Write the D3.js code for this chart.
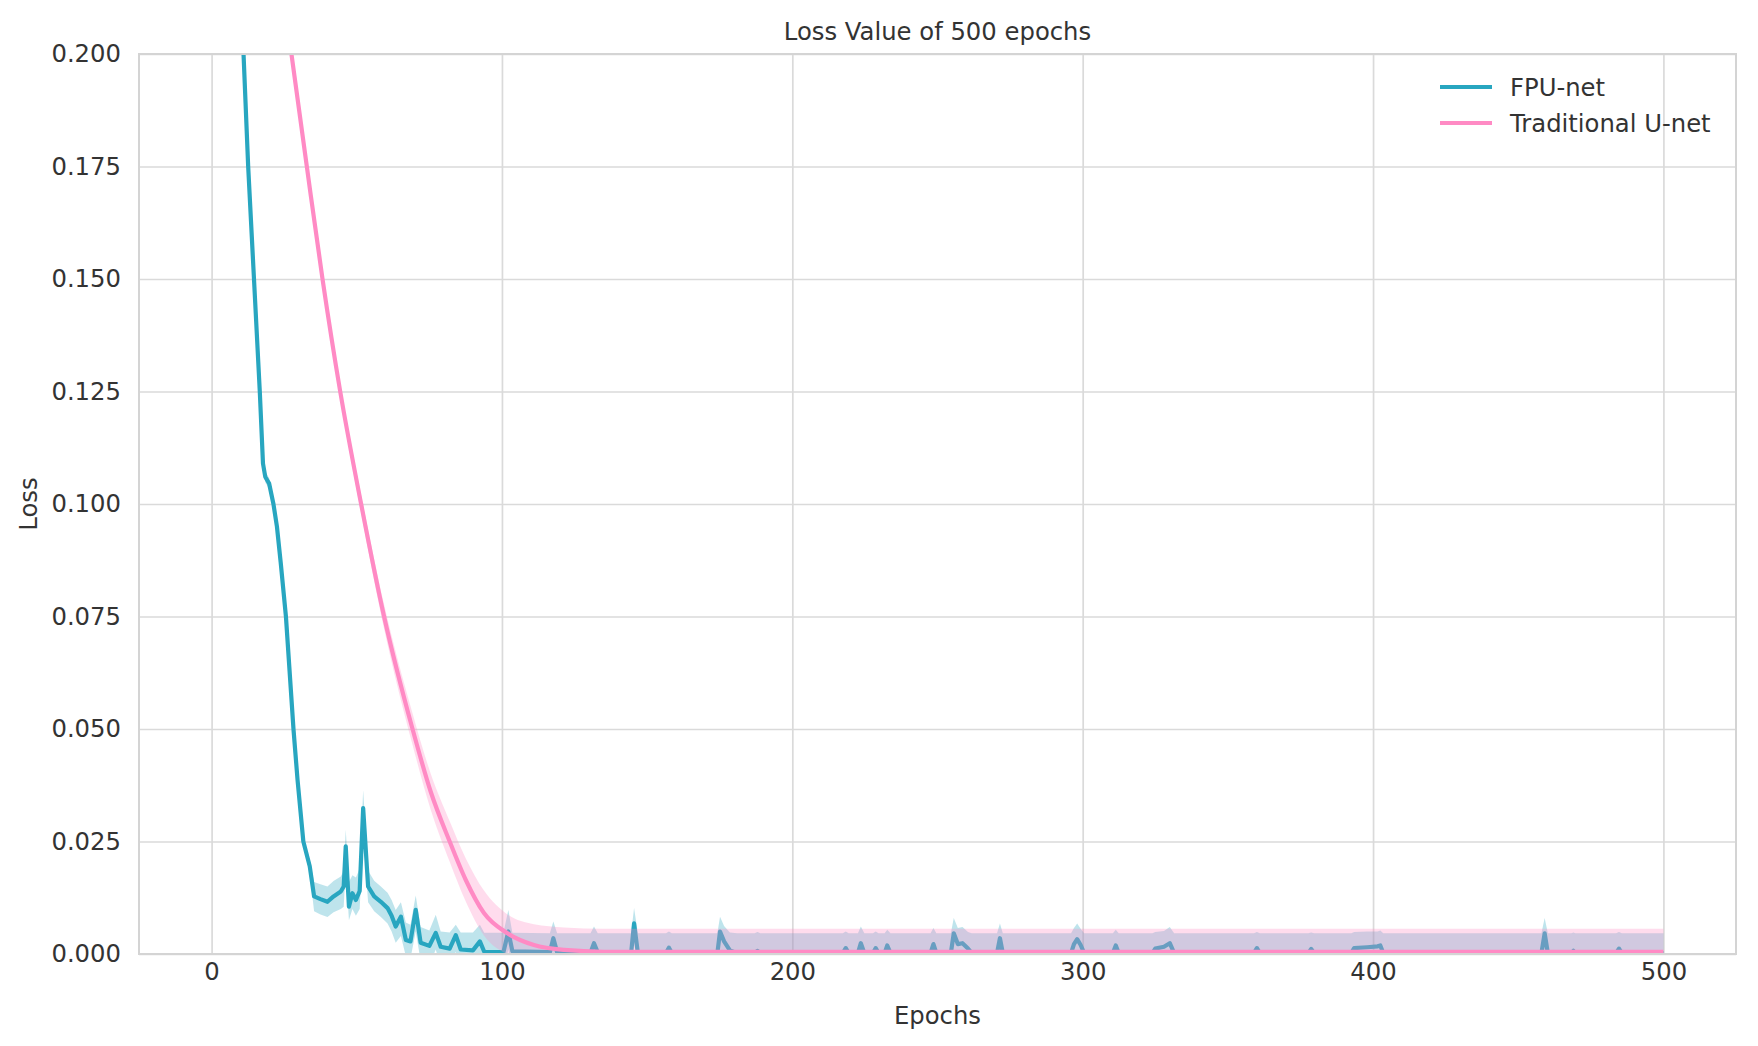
<!DOCTYPE html>
<html>
<head>
<meta charset="utf-8">
<script src="https://cdn.jsdelivr.net/npm/d3@7"></script>
<style>
  html, body { margin: 0; padding: 0; background: #ffffff; }
  svg { display: block; }
  text { font-family: "DejaVu Sans", sans-serif; fill: #333333; }
</style>
</head>
<body>
<svg id="chart" width="1758" height="1046"></svg>
<script>
// ---------------- data ----------------
const chartTitle = "Loss Value of 500 epochs";
const xLabel = "Epochs";
const yLabel = "Loss";
const seriesNames = ["FPU-net", "Traditional U-net"];
const xTicks = [0, 100, 200, 300, 400, 500];
const yTicks = [0, 0.025, 0.05, 0.075, 0.1, 0.125, 0.15, 0.175, 0.2];

// FPU-net: mean curve and its confidence band
const fpuEpoch = [9.5, 11.0, 12.6, 14.6, 16.6, 17.7, 18.5, 19.8, 21.3, 22.5, 23.8, 25.6, 28.2, 29.6, 31.6, 33.8,
  35.3, 37.5, 39.9, 42.0, 44.5, 45.5, 46.2, 47.3, 48.5, 49.7, 51.0, 52.2, 53.9, 56.0, 58.3, 60.6, 62.0, 63.4,
  65.2, 66.9, 68.5, 70.3, 72.0, 75.0, 77.2, 78.9, 82.0, 84.1, 85.8, 90.0, 92.4, 93.9, 100.5, 102.2, 103.6,
  116.5, 117.7, 119.0, 130.5, 131.7, 133.0, 144.5, 145.5, 146.8, 156.5, 157.5, 158.5, 174.2, 175.1, 176.5, 178.5,
  181.0, 187.0, 188.0, 189.0, 217.4, 218.4, 219.4, 222.6, 223.6, 224.8, 227.8, 228.7, 229.7, 231.8, 232.7, 233.8,
  247.6, 248.6, 249.6, 254.6, 255.6, 257.0, 258.6, 260.5, 261.8, 270.5, 271.5, 272.5, 296.0, 297.0, 298.1, 299.3,
  300.5, 310.4, 311.4, 312.4, 324.0, 325.0, 328.0, 330.0, 331.5, 359.0, 360.0, 361.0, 377.7, 378.7, 379.7,
  392.5, 393.5, 398.0, 401.6, 402.5, 403.5, 458.0, 459.1, 460.2, 468.3, 469.0, 469.7, 483.7, 484.7, 485.7, 500.0];
const fpuMean = [0.212, 0.200, 0.175, 0.150, 0.125, 0.109, 0.106, 0.1046, 0.100, 0.095, 0.087, 0.075, 0.050, 0.0387, 0.025, 0.0195,
  0.0128, 0.0122, 0.0116, 0.0128, 0.0139, 0.0150, 0.0239, 0.0105, 0.0135, 0.0120, 0.0140, 0.0324, 0.0150, 0.0128, 0.0116, 0.0102, 0.0085, 0.0061,
  0.0083, 0.0031, 0.0028, 0.0098, 0.0025, 0.0018, 0.0047, 0.0016, 0.0012, 0.0042, 0.0010, 0.0008, 0.0028, 0.0005, 0.0004, 0.0050, 0.0006,
  0.0004, 0.0035, 0.0004, 0.0003, 0.0024, 0.0003, 0.0003, 0.0068, 0.0003, 0.0002, 0.0014, 0.0002, 0.0002, 0.0050, 0.0028, 0.0008,
  0.0002, 0.0002, 0.0007, 0.0002, 0.0002, 0.0013, 0.0002, 0.0002, 0.0024, 0.0002, 0.0002, 0.0013, 0.0002, 0.0002, 0.0019, 0.0002,
  0.0002, 0.0022, 0.0002, 0.0002, 0.0046, 0.0022, 0.0024, 0.0012, 0.0002, 0.0002, 0.0035, 0.0002, 0.0002, 0.0022, 0.0033, 0.0020,
  0.0002, 0.0002, 0.0019, 0.0002, 0.0002, 0.0012, 0.0016, 0.0024, 0.0002, 0.0002, 0.0013, 0.0002, 0.0002, 0.0011, 0.0002,
  0.0002, 0.0013, 0.0015, 0.0017, 0.0019, 0.0002, 0.0002, 0.0046, 0.0002, 0.0002, 0.0007, 0.0002, 0.0002, 0.0012, 0.0002, 0.0002];
const fpuLow = [0.2115, 0.1995, 0.1745, 0.1495, 0.1243, 0.1080, 0.1048, 0.1034, 0.0990, 0.0940, 0.0862, 0.0744, 0.0495, 0.0382, 0.0244, 0.0180,
  0.0095, 0.0088, 0.0082, 0.0093, 0.0100, 0.0105, 0.0190, 0.0075, 0.0100, 0.0085, 0.0100, 0.0270, 0.0115, 0.0095, 0.0082, 0.0068, 0.0050, 0.0025,
  0.0040, -0.0005, -0.0010, 0.0050, -0.0015, -0.0025, 0.0010, -0.0030, -0.0035, 0.0005, -0.0035, -0.0038, -0.0010, -0.0040, -0.0040, 0.0010, -0.0040,
  -0.0040, -0.0005, -0.0040, -0.0042, -0.0020, -0.0042, -0.0042, 0.0025, -0.0042, -0.0042, -0.0030, -0.0042, -0.0042, 0.0010, -0.0015, -0.0035,
  -0.0042, -0.0042, -0.0036, -0.0042, -0.0042, -0.0030, -0.0042, -0.0042, -0.0020, -0.0042, -0.0042, -0.0030, -0.0042, -0.0042, -0.0025, -0.0042,
  -0.0042, -0.0022, -0.0042, -0.0042, 0.0005, -0.0022, -0.0020, -0.0032, -0.0042, -0.0042, -0.0008, -0.0042, -0.0042, -0.0022, -0.0010, -0.0024,
  -0.0042, -0.0042, -0.0025, -0.0042, -0.0042, -0.0032, -0.0028, -0.0020, -0.0042, -0.0042, -0.0031, -0.0042, -0.0042, -0.0033, -0.0042,
  -0.0042, -0.0031, -0.0029, -0.0027, -0.0025, -0.0042, -0.0042, 0.0005, -0.0042, -0.0042, -0.0037, -0.0042, -0.0042, -0.0032, -0.0042, -0.0042];
const fpuHigh = [0.2125, 0.2005, 0.1755, 0.1505, 0.1257, 0.1100, 0.1072, 0.1058, 0.1010, 0.0960, 0.0878, 0.0756, 0.0505, 0.0392, 0.0256, 0.0210,
  0.0160, 0.0155, 0.0150, 0.0162, 0.0172, 0.0185, 0.0276, 0.0160, 0.0175, 0.0170, 0.0190, 0.0364, 0.0185, 0.0163, 0.0150, 0.0136, 0.0120, 0.0098,
  0.0115, 0.0070, 0.0065, 0.0130, 0.0060, 0.0052, 0.0087, 0.0050, 0.0048, 0.0065, 0.0048, 0.0048, 0.0065, 0.0047, 0.0047, 0.0098, 0.0047,
  0.0046, 0.0072, 0.0046, 0.0046, 0.0061, 0.0046, 0.0046, 0.0102, 0.0046, 0.0046, 0.0050, 0.0046, 0.0046, 0.0083, 0.0062, 0.0048,
  0.0046, 0.0046, 0.0049, 0.0046, 0.0046, 0.0050, 0.0046, 0.0046, 0.0061, 0.0046, 0.0046, 0.0050, 0.0046, 0.0046, 0.0054, 0.0046,
  0.0046, 0.0058, 0.0046, 0.0046, 0.0080, 0.0058, 0.0060, 0.0049, 0.0046, 0.0046, 0.0068, 0.0046, 0.0046, 0.0058, 0.0068, 0.0056,
  0.0046, 0.0046, 0.0054, 0.0046, 0.0046, 0.0049, 0.0051, 0.0060, 0.0046, 0.0046, 0.0049, 0.0046, 0.0046, 0.0048, 0.0046,
  0.0046, 0.0049, 0.0050, 0.0050, 0.0052, 0.0046, 0.0046, 0.0080, 0.0046, 0.0046, 0.0048, 0.0046, 0.0046, 0.0049, 0.0046, 0.0046];

// Traditional U-net: smooth mean curve and its confidence band
const unetEpoch = [25.0, 27.5, 32.8, 38.2, 44.3, 51.5, 59.4, 69.2, 75.5, 82.0, 87.5, 93.8, 101.9, 111.0, 121.4, 135.0, 500.0];
const unetMean = [0.212, 0.200, 0.175, 0.150, 0.125, 0.100, 0.075, 0.050, 0.036, 0.025, 0.0165, 0.0091, 0.0046, 0.0020, 0.0009, 0.0005, 0.0005];
const unetLow = [0.2116, 0.1995, 0.1742, 0.1489, 0.1235, 0.0980, 0.0723, 0.0465, 0.0320, 0.0205, 0.0117, 0.0041, -0.0002, -0.0030, -0.0041, -0.0046, -0.0046];
const unetHigh = [0.2124, 0.2005, 0.1758, 0.1511, 0.1265, 0.1020, 0.0777, 0.0535, 0.0400, 0.0295, 0.0213, 0.0141, 0.0088, 0.0066, 0.0059, 0.0056, 0.0056];

const colors = ["#28a6c0", "#ff8ac4"];

// ---------------- layout ----------------
const svg = d3.select("#chart");
const L = 139, R = 1736, T = 54, B = 954;

const x = d3.scaleLinear().domain([-25, 525]).range([L, R]);
const y = d3.scaleLinear().domain([0, 0.2]).range([B, T]);

// grid
const gx = svg.append("g").attr("transform", `translate(0,${B})`)
  .call(d3.axisBottom(x).tickValues(xTicks).tickSize(-(B - T)).tickFormat(d3.format("d")).tickPadding(18));
gx.select(".domain").remove();
gx.selectAll(".tick line").attr("stroke", "#dadada").attr("stroke-width", 1.7);
gx.selectAll(".tick text").attr("font-size", 24.3).attr("fill", "#333").attr("dy", "0.71em")
  .attr("y", 9).attr("transform", null);

const gy = svg.append("g").attr("transform", `translate(${L},0)`)
  .call(d3.axisLeft(y).tickValues(yTicks).tickSize(-(R - L)).tickFormat(d3.format(".3f")).tickPadding(18));
gy.select(".domain").remove();
gy.selectAll(".tick line").attr("stroke", "#dadada").attr("stroke-width", 1.7);
gy.selectAll(".tick text").attr("font-size", 24.3).attr("fill", "#333");

// clip
svg.append("defs").append("clipPath").attr("id", "plotclip")
  .append("rect").attr("x", L).attr("y", T).attr("width", R - L).attr("height", B - T);
const plot = svg.append("g").attr("clip-path", "url(#plotclip)");

function drawSeries(ep, mean, lo, hi, color, curve) {
  const idx = d3.range(ep.length);
  const area = d3.area().x(i => x(ep[i])).y0(i => y(lo[i])).y1(i => y(hi[i])).curve(curve);
  const line = d3.line().x(i => x(ep[i])).y(i => y(mean[i])).curve(curve);
  plot.append("path").datum(idx).attr("d", area).attr("fill", color).attr("fill-opacity", 0.3).attr("stroke", "none");
  plot.append("path").datum(idx).attr("d", line).attr("fill", "none").attr("stroke", color)
    .attr("stroke-width", 4.2).attr("stroke-linejoin", "round");
}
drawSeries(fpuEpoch, fpuMean, fpuLow, fpuHigh, colors[0], d3.curveLinear);
drawSeries(unetEpoch, unetMean, unetLow, unetHigh, colors[1], d3.curveMonotoneX);

// spines
svg.append("rect").attr("x", L).attr("y", T).attr("width", R - L).attr("height", B - T)
  .attr("fill", "none").attr("stroke", "#d4d4d4").attr("stroke-width", 2);

// title and labels
svg.append("text").attr("x", (L + R) / 2).attr("y", 31).attr("text-anchor", "middle")
  .attr("dominant-baseline", "central").attr("font-size", 24.3).text(chartTitle);
svg.append("text").attr("x", (L + R) / 2).attr("y", 1015).attr("text-anchor", "middle")
  .attr("dominant-baseline", "central").attr("font-size", 24.3).text(xLabel);
svg.append("text").attr("transform", `translate(28,${(T + B) / 2}) rotate(-90)`).attr("text-anchor", "middle")
  .attr("dominant-baseline", "central").attr("font-size", 24.3).text(yLabel);

// legend
const leg = svg.append("g");
seriesNames.forEach((name, i) => {
  const yy = 87 + i * 36;
  leg.append("line").attr("x1", 1440).attr("x2", 1492).attr("y1", yy).attr("y2", yy)
    .attr("stroke", colors[i]).attr("stroke-width", 4.2);
  leg.append("text").attr("x", 1510).attr("y", yy).attr("dominant-baseline", "central")
    .attr("font-size", 24.3).text(name);
});
</script>
</body>
</html>
